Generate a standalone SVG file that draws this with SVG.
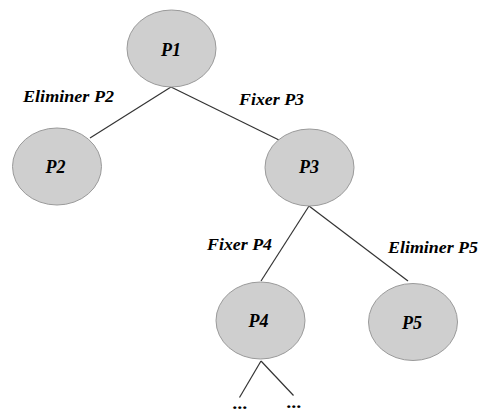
<svg xmlns="http://www.w3.org/2000/svg" width="480" height="412" viewBox="0 0 480 412">
<style>
.node ellipse{fill:#cfcfcf;stroke:#9a9a9a;stroke-width:1}
.node text{font-weight:bold;font-style:italic;font-size:18px;fill:#000;text-anchor:middle}
.edges line{stroke:#333;stroke-width:1.2}
.lbl{font-weight:bold;font-style:italic;font-size:17px;fill:#000}
</style>
<rect width="480" height="412" fill="#fff"/>
<g class="edges">
<line x1="171" y1="87" x2="90" y2="138"/>
<line x1="171" y1="87" x2="279" y2="140"/>
<line x1="309" y1="206" x2="261" y2="281"/>
<line x1="309" y1="206" x2="408" y2="281"/>
<line x1="261" y1="361" x2="239.5" y2="397.5"/>
<line x1="261" y1="361" x2="293.5" y2="395.5"/>
</g>
<g font-family="Liberation Serif, Times New Roman, serif">
<g id="P1" class="node"><ellipse cx="171.5" cy="48.5" rx="44.5" ry="38.5"/><text x="171" y="56">P1</text></g>
<g id="P2" class="node"><ellipse cx="57" cy="166.5" rx="44.5" ry="38.5"/><text x="55.5" y="173">P2</text></g>
<g id="P3" class="node"><ellipse cx="309.5" cy="167.5" rx="44.5" ry="38.5"/><text x="309" y="173">P3</text></g>
<g id="P4" class="node"><ellipse cx="260.5" cy="320.5" rx="44.5" ry="38.5"/><text x="258.5" y="327">P4</text></g>
<g id="P5" class="node"><ellipse cx="413" cy="322" rx="44.5" ry="38.5"/><text x="412" y="329">P5</text></g>
<g id="labels">
<text class="lbl" x="23" y="102" textLength="91" lengthAdjust="spacingAndGlyphs">Eliminer P2</text>
<text class="lbl" x="239" y="105" textLength="65" lengthAdjust="spacingAndGlyphs">Fixer P3</text>
<text class="lbl" x="207" y="250" textLength="65" lengthAdjust="spacingAndGlyphs">Fixer P4</text>
<text class="lbl" x="388" y="253" textLength="90" lengthAdjust="spacingAndGlyphs">Eliminer P5</text>
<text class="lbl" x="233" y="409" textLength="15" lengthAdjust="spacingAndGlyphs">...</text>
<text class="lbl" x="287" y="408" textLength="15" lengthAdjust="spacingAndGlyphs">...</text>
</g>
</g>
</svg>
